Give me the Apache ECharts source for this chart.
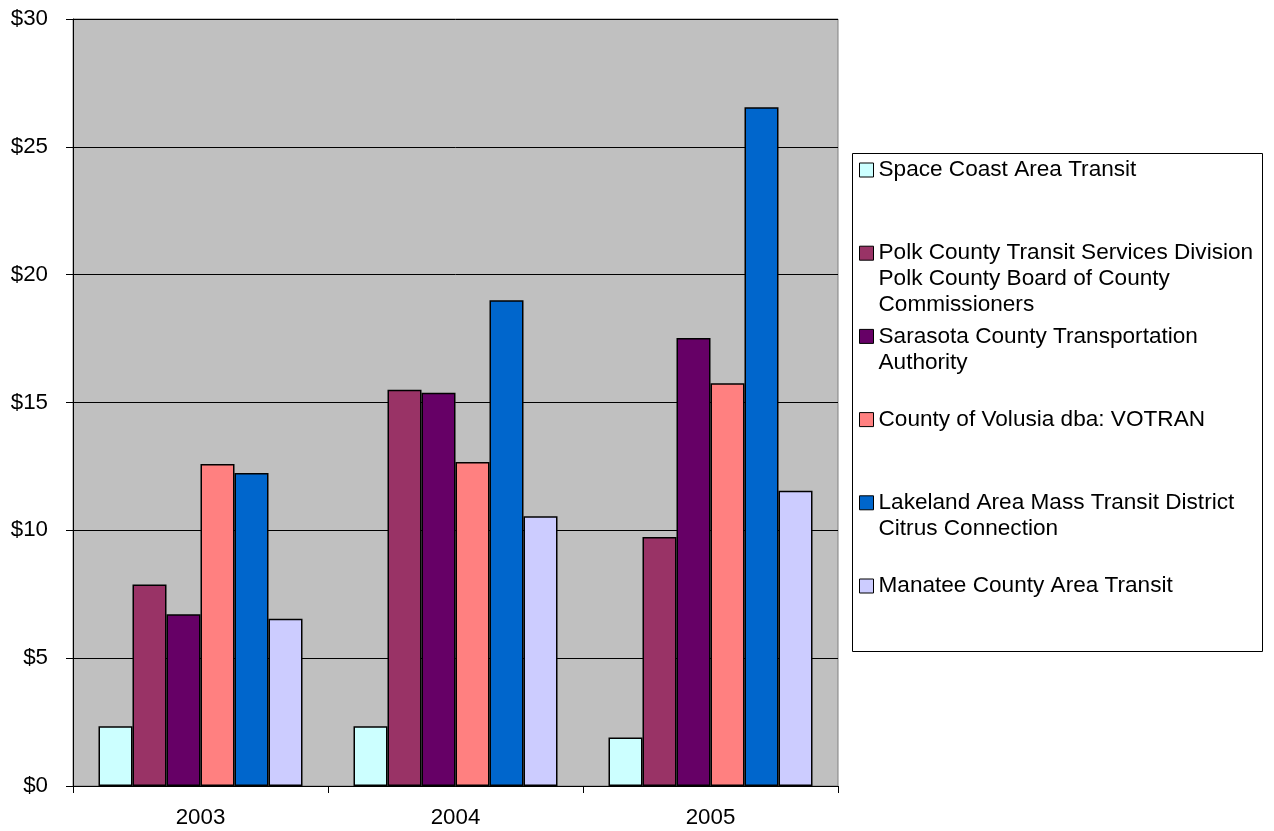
<!DOCTYPE html>
<html>
<head>
<meta charset="utf-8">
<script src="https://cdn.jsdelivr.net/npm/echarts@6/dist/echarts.min.js"></script>
<style>html,body{margin:0;padding:0;background:#fff}#c{width:1274px;height:831px}</style>
</head>
<body>
<div id="c"></div>
<script>
const years = ['2003', '2004', '2005'];
const seriesNames = [
  'Space Coast Area Transit',
  'Polk County Transit Services Division Polk County Board of County Commissioners',
  'Sarasota County Transportation Authority',
  'County of Volusia dba: VOTRAN',
  'Lakeland Area Mass Transit District Citrus Connection',
  'Manatee County Area Transit'
];
const legendLabels = [
  'Space Coast Area Transit',
  'Polk County Transit Services Division\nPolk County Board of County\nCommissioners',
  'Sarasota County Transportation\nAuthority',
  'County of Volusia dba: VOTRAN',
  'Lakeland Area Mass Transit District\nCitrus Connection',
  'Manatee County Area Transit'
];
const spaceCoast = [2.34, 2.34, 1.90];
const polk = [7.88, 15.50, 9.74];
const sarasota = [6.72, 15.38, 17.52];
const volusia = [12.59, 12.67, 15.75];
const lakeland = [12.24, 19.00, 26.55];
const manatee = [6.54, 10.55, 11.55];
const seriesValues = [spaceCoast, polk, sarasota, volusia, lakeland, manatee];
const colors = ['#CCFFFF', '#993366', '#660066', '#FF8080', '#0066CC', '#CCCCFF'];
const yTicks = { min: 0, max: 30, interval: 5 };

const FONT = '"Liberation Sans", Arial, sans-serif';
const LH = 26;
const chart = echarts.init(document.getElementById('c'), null, { renderer: 'canvas' });

const legends = seriesNames.map((n, i) => {
  const lines = legendLabels[i].split('\n').length;
  const center = 170 + i * 83.2;
  // blank lines above keep the icon level with the first text line
  const label = '\n'.repeat(lines - 1) + legendLabels[i];
  return {
    data: [n],
    left: 859,
    top: center - (2 * lines - 1) * LH / 2,
    orient: 'vertical',
    padding: 0,
    itemGap: 0,
    itemWidth: 14,
    itemHeight: 14,
    icon: 'rect',
    selectedMode: false,
    itemStyle: { borderColor: '#000', borderWidth: 1 },
    formatter: () => label,
    textStyle: {
      fontFamily: FONT, fontSize: 22.6, lineHeight: LH, color: '#000'
    }
  };
});

chart.setOption({
  animation: false,
  textStyle: { fontFamily: FONT },
  graphic: [{
    type: 'rect', z: -1,
    shape: { x: 852.5, y: 153.5, width: 410, height: 498 },
    style: { fill: '#fff', stroke: '#000', lineWidth: 1 }
  }],
  legend: legends,
  grid: {
    left: 73, right: 436, top: 19, bottom: 45,
    show: true, backgroundColor: '#C0C0C0', borderColor: '#808080', borderWidth: 1
  },
  xAxis: {
    type: 'category',
    data: years,
    axisLine: { lineStyle: { color: '#000', width: 1 } },
    axisTick: { show: true, length: 7, lineStyle: { color: '#000' } },
    axisLabel: { fontFamily: FONT, fontSize: 22.3, color: '#000', margin: 21 },
    splitLine: { show: false }
  },
  yAxis: {
    type: 'value',
    min: yTicks.min, max: yTicks.max, interval: yTicks.interval,
    axisLine: { show: true, lineStyle: { color: '#000', width: 1 } },
    axisTick: { show: true, length: 7, lineStyle: { color: '#000' } },
    axisLabel: { fontFamily: FONT, fontSize: 22.3, color: '#000', margin: 25,
      formatter: v => '$' + v },
    splitLine: { show: true, lineStyle: { color: '#000', width: 1 } }
  },
  series: seriesNames.map((n, i) => ({
    name: n,
    type: 'bar',
    data: seriesValues[i],
    barGap: '0%',
    barCategoryGap: '20%',
    itemStyle: { color: colors[i], borderColor: '#000', borderWidth: 1.5 }
  }))
});
</script>
</body>
</html>
